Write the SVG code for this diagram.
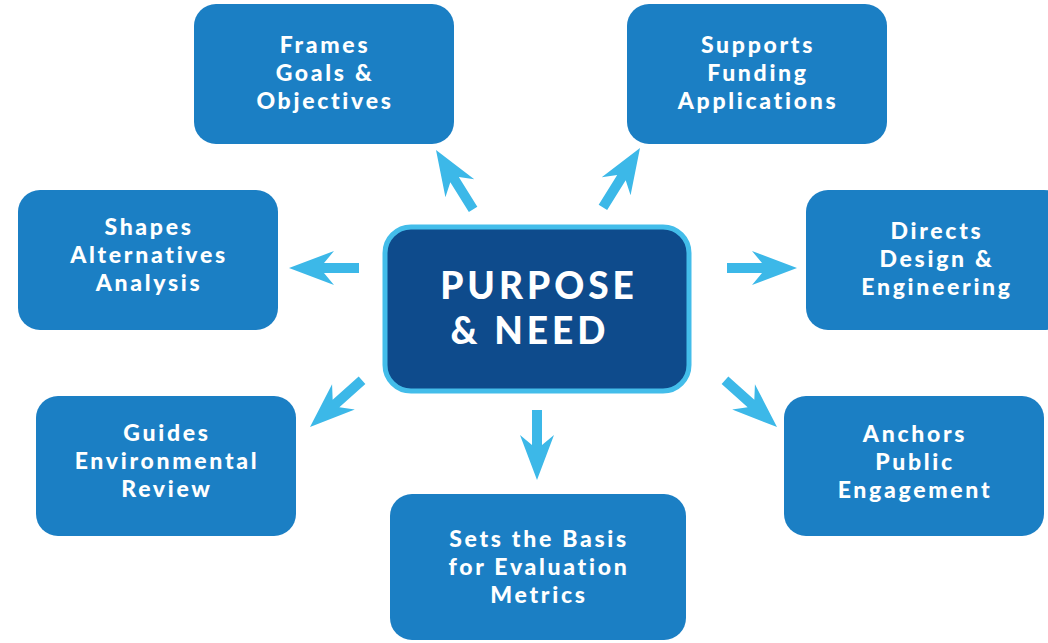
<svg xmlns="http://www.w3.org/2000/svg" xmlns:xlink="http://www.w3.org/1999/xlink" width="1048" height="643" viewBox="0 0 1048 643">
<style>
.box{fill:#1b7fc4}
.lbl{fill:#fff;font-family:Lato,"Open Sans","Liberation Sans",sans-serif;font-weight:900;font-size:23px;text-anchor:middle;letter-spacing:2.7px}
.ctr{fill:#fff;font-family:Lato,"Open Sans","Liberation Sans",sans-serif;font-weight:900;font-size:37px;text-anchor:middle;letter-spacing:4px}
.arr{fill:#3cb8e8}
</style>
<defs>
<path id="a" d="M0,0 L45,-17 L35,-5 L70,-5 L70,5 L35,5 L45,17 Z"/>
</defs>
<rect width="1048" height="643" fill="#fff"/>
<g id="connectors" class="arr">
<use xlink:href="#a" transform="translate(436,150) rotate(58)"/>
<use xlink:href="#a" transform="translate(640,148) rotate(122)"/>
<use xlink:href="#a" transform="translate(289,268)"/>
<use xlink:href="#a" transform="translate(797,268) rotate(180)"/>
<use xlink:href="#a" transform="translate(310,427) rotate(-42)"/>
<use xlink:href="#a" transform="translate(537,480) rotate(-90)"/>
<use xlink:href="#a" transform="translate(777,427) rotate(-138)"/>
</g>
<g id="center">
<rect x="385" y="227" width="304" height="164" rx="26" fill="#0e4b8c" stroke="#43bdea" stroke-width="5"/>
<text class="ctr" x="539" y="299">PURPOSE</text>
<text class="ctr" x="530" y="344">&amp; NEED</text>
</g>
<g id="frames">
<rect class="box" x="194" y="4" width="260" height="140" rx="22"/>
<text class="lbl" x="325" y="53">Frames</text>
<text class="lbl" x="325" y="81">Goals &amp;</text>
<text class="lbl" x="325" y="109">Objectives</text>
</g>
<g id="supports">
<rect class="box" x="627" y="4" width="260" height="140" rx="22"/>
<text class="lbl" x="758" y="53">Supports</text>
<text class="lbl" x="758" y="81">Funding</text>
<text class="lbl" x="758" y="109">Applications</text>
</g>
<g id="shapes">
<rect class="box" x="18" y="190" width="260" height="140" rx="22"/>
<text class="lbl" x="149" y="235">Shapes</text>
<text class="lbl" x="149" y="263">Alternatives</text>
<text class="lbl" x="149" y="291">Analysis</text>
</g>
<g id="directs">
<rect class="box" x="806" y="190" width="260" height="140" rx="22"/>
<text class="lbl" x="937" y="239">Directs</text>
<text class="lbl" x="937" y="267">Design &amp;</text>
<text class="lbl" x="937" y="295">Engineering</text>
</g>
<g id="guides">
<rect class="box" x="36" y="396" width="260" height="140" rx="22"/>
<text class="lbl" x="167" y="441">Guides</text>
<text class="lbl" x="167" y="469">Environmental</text>
<text class="lbl" x="167" y="497">Review</text>
</g>
<g id="anchors">
<rect class="box" x="784" y="396" width="260" height="140" rx="22"/>
<text class="lbl" x="915" y="442">Anchors</text>
<text class="lbl" x="915" y="470">Public</text>
<text class="lbl" x="915" y="498">Engagement</text>
</g>
<g id="sets">
<rect class="box" x="390" y="494" width="296" height="146" rx="22"/>
<text class="lbl" x="539" y="547">Sets the Basis</text>
<text class="lbl" x="539" y="575">for Evaluation</text>
<text class="lbl" x="539" y="603">Metrics</text>
</g>
</svg>
